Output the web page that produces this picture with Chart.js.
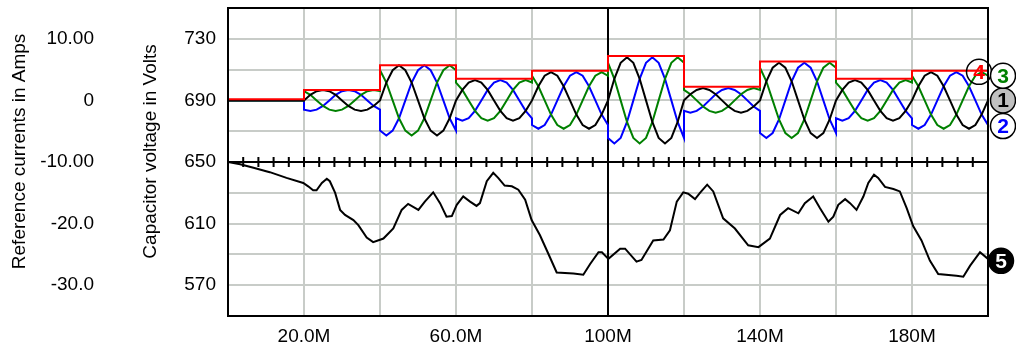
<!DOCTYPE html>
<html>
<head>
<meta charset="utf-8">
<script src="https://cdn.jsdelivr.net/npm/chart.js@4.4.1/dist/chart.umd.min.js"></script>
<style>
  html, body { margin: 0; padding: 0; background: #fff; }
  canvas { display: block; }
</style>
</head>
<body>
<canvas id="scope" width="1016" height="343"></canvas>
<script>
// time axis in M units (0..200M)
const timeM = [
  0, 20,
  20, 21.67, 23.33, 25, 26.67, 28.33, 30, 31.67, 33.33, 35, 36.67, 38.33, 40,
  40, 41.67, 43.33, 45, 46.67, 48.33, 50, 51.67, 53.33, 55, 56.67, 58.33, 60,
  60, 61.67, 63.33, 65, 66.67, 68.33, 70, 71.67, 73.33, 75, 76.67, 78.33, 80,
  80, 81.67, 83.33, 85, 86.67, 88.33, 90, 91.67, 93.33, 95, 96.67, 98.33, 100,
  100, 101.67, 103.33, 105, 106.67, 108.33, 110, 111.67, 113.33, 115, 116.67, 118.33, 120,
  120, 121.67, 123.33, 125, 126.67, 128.33, 130, 131.67, 133.33, 135, 136.67, 138.33, 140,
  140, 141.67, 143.33, 145, 146.67, 148.33, 150, 151.67, 153.33, 155, 156.67, 158.33, 160,
  160, 161.67, 163.33, 165, 166.67, 168.33, 170, 171.67, 173.33, 175, 176.67, 178.33, 180,
  180, 181.67, 183.33, 185, 186.67, 188.33, 190, 191.67, 193.33, 195, 196.67, 198.33, 200
];

// phase currents (A)
const current1 = [
  0, 0,
  0, 0.9, 1.5, 1.7, 1.5, 0.9, 0, -0.9, -1.5, -1.7, -1.5, -0.9, 0,
  0, 2.9, 4.9, 5.7, 4.9, 2.9, 0, -2.9, -4.9, -5.7, -4.9, -2.9, 0,
  0, 1.7, 2.9, 3.3, 2.9, 1.7, 0, -1.7, -2.9, -3.3, -2.9, -1.7, 0,
  0, 2.3, 4.0, 4.6, 4.0, 2.3, 0, -2.3, -4.0, -4.6, -4.0, -2.3, 0,
  0, 3.5, 6.1, 7.0, 6.1, 3.5, 0, -3.5, -6.1, -7.0, -6.1, -3.5, 0,
  0, 1.0, 1.7, 2.0, 1.7, 1.0, 0, -1.0, -1.7, -2.0, -1.7, -1.0, 0,
  0, 3.1, 5.3, 6.1, 5.3, 3.1, 0, -3.1, -5.3, -6.1, -5.3, -3.1, 0,
  0, 1.7, 2.9, 3.3, 2.9, 1.7, 0, -1.7, -2.9, -3.3, -2.9, -1.7, 0,
  0, 2.3, 4.0, 4.6, 4.0, 2.3, 0, -2.3, -4.0, -4.6, -4.0, -2.3, 0
];
const current2 = [
  0, 0,
  -1.5, -1.7, -1.5, -0.9, 0, 0.9, 1.5, 1.7, 1.5, 0.9, 0, -0.9, -1.5,
  -4.9, -5.7, -4.9, -2.9, 0, 2.9, 4.9, 5.7, 4.9, 2.9, 0, -2.9, -4.9,
  -2.9, -3.3, -2.9, -1.7, 0, 1.7, 2.9, 3.3, 2.9, 1.7, 0, -1.7, -2.9,
  -4.0, -4.6, -4.0, -2.3, 0, 2.3, 4.0, 4.6, 4.0, 2.3, 0, -2.3, -4.0,
  -6.1, -7.0, -6.1, -3.5, 0, 3.5, 6.1, 7.0, 6.1, 3.5, 0, -3.5, -6.1,
  -1.7, -2.0, -1.7, -1.0, 0, 1.0, 1.7, 2.0, 1.7, 1.0, 0, -1.0, -1.7,
  -5.3, -6.1, -5.3, -3.1, 0, 3.1, 5.3, 6.1, 5.3, 3.1, 0, -3.1, -5.3,
  -2.9, -3.3, -2.9, -1.7, 0, 1.7, 2.9, 3.3, 2.9, 1.7, 0, -1.7, -2.9,
  -4.0, -4.6, -4.0, -2.3, 0, 2.3, 4.0, 4.6, 4.0, 2.3, 0, -2.3, -4.0
];
const current3 = [
  0, 0,
  1.5, 0.9, 0, -0.9, -1.5, -1.7, -1.5, -0.9, 0, 0.9, 1.5, 1.7, 1.5,
  4.9, 2.9, 0, -2.9, -4.9, -5.7, -4.9, -2.9, 0, 2.9, 4.9, 5.7, 4.9,
  2.9, 1.7, 0, -1.7, -2.9, -3.3, -2.9, -1.7, 0, 1.7, 2.9, 3.3, 2.9,
  4.0, 2.3, 0, -2.3, -4.0, -4.6, -4.0, -2.3, 0, 2.3, 4.0, 4.6, 4.0,
  6.1, 3.5, 0, -3.5, -6.1, -7.0, -6.1, -3.5, 0, 3.5, 6.1, 7.0, 6.1,
  1.7, 1.0, 0, -1.0, -1.7, -2.0, -1.7, -1.0, 0, 1.0, 1.7, 2.0, 1.7,
  5.3, 3.1, 0, -3.1, -5.3, -6.1, -5.3, -3.1, 0, 3.1, 5.3, 6.1, 5.3,
  2.9, 1.7, 0, -1.7, -2.9, -3.3, -2.9, -1.7, 0, 1.7, 2.9, 3.3, 2.9,
  4.0, 2.3, 0, -2.3, -4.0, -4.6, -4.0, -2.3, 0, 2.3, 4.0, 4.6, 4.0
];

// reference amplitude, one level per 20M window
const refTimeM = [0, 20, 40, 60, 80, 100, 120, 140, 160, 180, 200];
const refAmps = [0.2, 1.7, 5.7, 3.5, 4.8, 7.2, 2.2, 6.3, 3.5, 4.8, 4.8];

// capacitor voltage (V)
const capTimeM = [
  0, 3.2, 6.7, 11, 15.4, 19.8, 21.1, 22.4, 23.3, 24.7, 26, 26.8, 28.2, 29.5, 30.8,
  33, 34.3, 36.5, 38.2, 40.9, 43.5, 45.7, 47.4, 50.1, 51.8, 54, 55.8, 57.5, 58.9,
  60.2, 61.9, 63.7, 65.4, 66.3, 68.1, 69.8, 71.1, 72.8, 74.7, 76.4, 78.2, 79.9,
  82.1, 84.3, 86.5, 90.9, 93.5, 95.3, 97.5, 98.4, 100.1, 103.2, 104.5, 107.5,
  108.8, 111.9, 114.6, 116.3, 118.1, 119.8, 121.1, 122.9, 124.2, 126.1, 127.7,
  130.3, 133.4, 136.9, 139.6, 142.6, 145.3, 147.4, 150.1, 151.8, 154, 155.8, 158,
  159.3, 160.6, 162.4, 163.7, 165.4, 167.2, 168.5, 170, 171.1, 172.9, 175.1,
  176.8, 178.6, 180.3, 182.5, 184.7, 186.9, 191.7, 193.5, 195.3, 197.9, 200
];
const capVolts = [
  650, 648.5, 646.3, 643.4, 639.7, 636.4, 634.2, 631.6, 631.6, 636.4, 639.1, 637.5, 629.9, 618.9, 615.6,
  612.3, 609, 600.9, 598, 600.3, 606.8, 618.9, 622.8, 618.9, 624.3, 630.3, 623.3, 614.5, 614.9,
  622.2, 627.6, 624.3, 621.5, 623.3, 637.5, 643, 639.7, 634.7, 634.2, 632, 625.5, 612.3,
  602.4, 590.4, 578.3, 577.6, 576.8, 583.8, 591.4, 591.4, 587.1, 593.7, 593.7, 585.3,
  586.4, 599.1, 599.6, 605.7, 624.3, 630.3, 629.4, 625.9, 629.9, 635.3, 630.9,
  613.4, 606.8, 595.9, 594.7, 600.3, 615.6, 620, 616.7, 623.3, 627.6, 620, 611.2,
  614.5, 622.2, 625.9, 623.3, 618.9, 627.6, 636.4, 641.7, 639.7, 633.8, 632.5,
  630.9, 620, 608.4, 599.1, 586, 577.2, 576.1, 575.5, 582.7, 591.4, 587.1
];

// tick labels
const xLabelValues = [20, 60, 100, 140, 180];
const xLabelText = ['20.0M', '60.0M', '100M', '140M', '180M'];
const voltLabelValues = [730, 690, 650, 610, 570];
const ampTickValues = [10, 0, -10, -20, -30];
const ampTickText = ['10.00', '0', '-10.00', '-20.0', '-30.0'];

const FONT = '"Liberation Sans", Arial, sans-serif';
const GRID = '#c8ccc8';

function zip(xs, ys) {
  return xs.map((x, i) => ({ x: x, y: ys[i] }));
}

// no label overhang padding, so the plot box sits where the layout puts it
function noPad(s) {
  s.paddingTop = 0;
  s.paddingBottom = 0;
  s.paddingLeft = 0;
  s.paddingRight = 0;
}

// black frame, center cross with minor ticks
const scopeFrame = {
  id: 'scopeFrame',
  beforeDatasetsDraw(chart) {
    const { ctx, chartArea: a, scales } = chart;
    const x = scales.x, yV = scales.yV;
    const y0 = yV.getPixelForValue(650);
    const xc = x.getPixelForValue(100);
    ctx.save();
    ctx.strokeStyle = '#000';
    ctx.lineWidth = 2;
    ctx.beginPath();
    ctx.moveTo(a.left, y0); ctx.lineTo(a.right, y0);
    ctx.moveTo(xc, a.top); ctx.lineTo(xc, a.bottom);
    for (let t = 0; t <= 200; t += 4) {
      const px = x.getPixelForValue(t);
      ctx.moveTo(px, y0 - 5); ctx.lineTo(px, y0 + 5);
    }
    ctx.stroke();
    ctx.restore();
  },
  afterDatasetsDraw(chart) {
    const { ctx, chartArea: a } = chart;
    ctx.save();
    ctx.strokeStyle = '#000';
    ctx.lineWidth = 2;
    ctx.strokeRect(a.left, a.top, a.right - a.left, a.bottom - a.top);
    ctx.restore();
  }
};

// numbered circles at the trace ends
const traceTags = {
  id: 'traceTags',
  afterDraw(chart) {
    const { ctx, chartArea: a } = chart;
    ctx.save();
    chart.data.datasets.forEach((ds, i) => {
      if (!ds.tag) return;
      const meta = chart.getDatasetMeta(i);
      const last = meta.data[meta.data.length - 1];
      const cx = a.right + ds.tagDx;
      const cy = last.y + (ds.tagDy || 0);
      ctx.beginPath();
      ctx.arc(cx, cy, 12.5, 0, Math.PI * 2);
      if (ds.tagFill) { ctx.fillStyle = ds.tagFill; ctx.fill(); }
      ctx.lineWidth = 1.5;
      ctx.strokeStyle = '#000';
      ctx.stroke();
      ctx.fillStyle = ds.tagColor;
      ctx.font = 'bold 21px ' + FONT;
      ctx.textAlign = 'center';
      ctx.textBaseline = 'middle';
      ctx.fillText(ds.tag, cx, cy + 1);
    });
    ctx.restore();
  }
};

new Chart(document.getElementById('scope'), {
  type: 'line',
  data: {
    datasets: [
      {
        label: 'ref', data: zip(refTimeM, refAmps), yAxisID: 'yA',
        borderColor: '#ff0000', borderWidth: 2, stepped: true,
        tag: '4', tagDx: -9, tagDy: 1, tagColor: '#ff0000', tagFill: null
      },
      {
        label: 'i1', data: zip(timeM, current1), yAxisID: 'yA',
        borderColor: '#000000', borderWidth: 2,
        tag: '1', tagDx: 15, tagColor: '#000000', tagFill: '#c0c0c0'
      },
      {
        label: 'i3', data: zip(timeM, current3), yAxisID: 'yA',
        borderColor: '#008000', borderWidth: 2,
        tag: '3', tagDx: 15, tagColor: '#008000', tagFill: '#ffffff'
      },
      {
        label: 'i2', data: zip(timeM, current2), yAxisID: 'yA',
        borderColor: '#0000ff', borderWidth: 2,
        tag: '2', tagDx: 15, tagDy: 1, tagColor: '#0000ff', tagFill: '#ffffff'
      },
      {
        label: 'vc', data: zip(capTimeM, capVolts), yAxisID: 'yV',
        borderColor: '#000000', borderWidth: 2,
        tag: '5', tagDx: 13, tagDy: 2, tagColor: '#ffffff', tagFill: '#000000'
      }
    ]
  },
  options: {
    responsive: false,
    devicePixelRatio: 1,
    animation: false,
    parsing: false,
    normalized: true,
    layout: { padding: { top: 8, right: 28, left: 0, bottom: 0 } },
    elements: { point: { radius: 0 }, line: { tension: 0 } },
    plugins: { legend: { display: false }, tooltip: { enabled: false } },
    scales: {
      x: {
        type: 'linear', min: 0, max: 200,
        grid: { color: GRID, lineWidth: 2, drawTicks: false },
        border: { display: false },
        ticks: {
          stepSize: 20, autoSkip: false, maxRotation: 0, padding: 9,
          color: '#000', font: { family: FONT, size: 19 },
          callback: v => {
            const k = xLabelValues.indexOf(v);
            return k >= 0 ? xLabelText[k] : '';
          }
        },
        afterFit: s => { s.height = 27; noPad(s); }
      },
      yV: {
        type: 'linear', position: 'left', weight: 0, min: 550, max: 750,
        grid: { color: GRID, lineWidth: 2, drawTicks: false },
        border: { display: false },
        ticks: {
          stepSize: 20, autoSkip: false, padding: 12,
          color: '#000', font: { family: FONT, size: 19 },
          callback: v => voltLabelValues.includes(v) ? String(v) : ''
        },
        title: {
          display: true, text: '    Capacitor voltage in Volts', color: '#000',
          font: { family: FONT, size: 19 }, padding: { top: 27, bottom: 0 }
        },
        afterFit: s => { s.width = 116; noPad(s); }
      },
      yA: {
        type: 'linear', position: 'left', weight: 1, min: -35, max: 15,
        grid: { display: false, drawTicks: false },
        border: { display: false },
        afterBuildTicks: s => { s.ticks = ampTickValues.map(v => ({ value: v })); },
        ticks: {
          autoSkip: false, padding: 18,
          color: '#000', font: { family: FONT, size: 19 },
          callback: v => {
            const k = ampTickValues.indexOf(v);
            return k >= 0 ? ampTickText[k] : '';
          }
        },
        title: {
          display: true, text: '    Reference currents in Amps', color: '#000',
          font: { family: FONT, size: 19 }, padding: { top: 8, bottom: 0 }
        },
        afterFit: s => { s.width = 112; noPad(s); }
      }
    }
  },
  plugins: [scopeFrame, traceTags]
});
</script>
</body>
</html>
